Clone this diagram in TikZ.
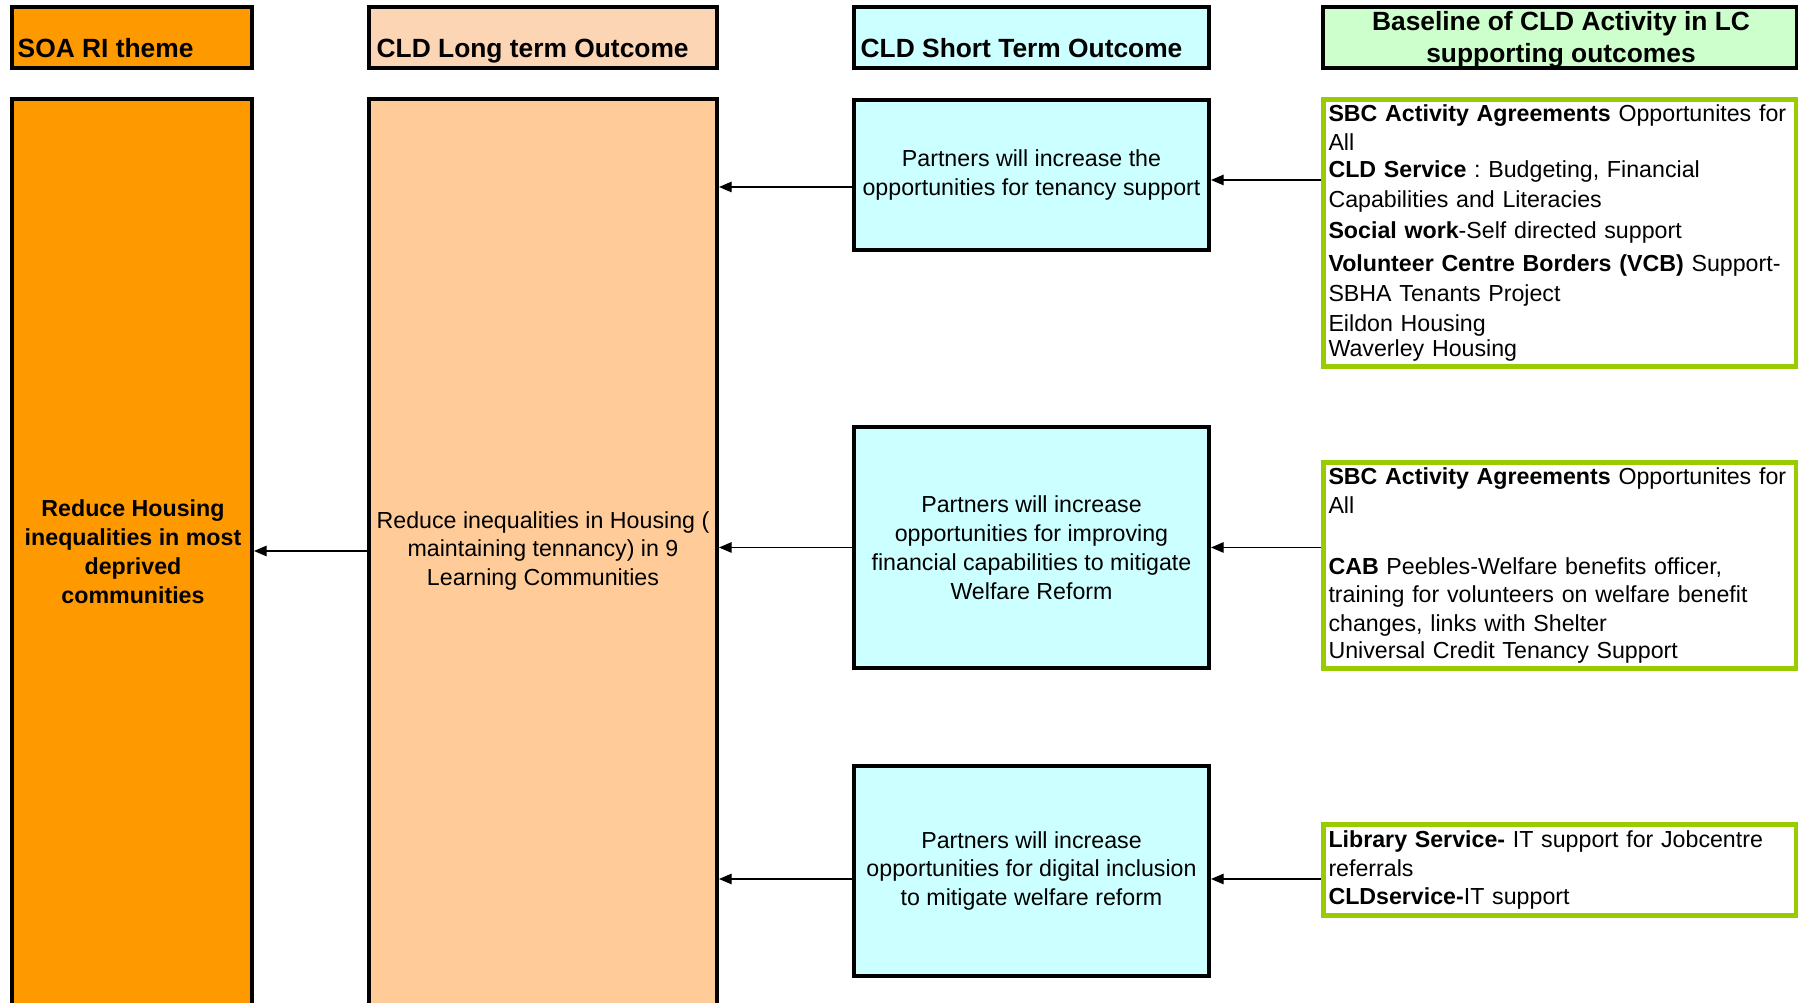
\documentclass[tikz,border=0pt]{standalone}
\usepackage{fontspec}
\setmainfont{Liberation Sans}
\usepackage{xcolor}
\usetikzlibrary{arrows.meta,calc}
\frenchspacing

\definecolor{soaorange}{HTML}{FF9900}
\definecolor{longpeach}{HTML}{FCD5B4}
\definecolor{longbody}{HTML}{FFCC99}
\definecolor{shortcyan}{HTML}{CCFFFF}
\definecolor{basegreen}{HTML}{CCFFCC}
\definecolor{actgreen}{HTML}{99CC00}

\begin{document}
\begin{tikzpicture}[
    box/.style={rectangle, draw, line width=1.15pt, inner sep=0pt},
    head/.style={font=\fontsize{7.5}{9.1}\selectfont\bfseries, inner sep=0pt},
    txt/.style={font=\fontsize{6.6}{8.2}\selectfont, align=center},
    txtb/.style={font=\fontsize{6.6}{8.2}\selectfont\bfseries, align=center},
    shortbox/.style={box, fill=shortcyan, minimum width=3.55cm, txt},
    actbox/.style={rectangle, draw=actgreen, line width=1.3pt, fill=white, text width=4.63cm, inner xsep=0.05cm, inner ysep=0pt, align=left, font=\fontsize{6.6}{8.2}\selectfont},
    arrow/.style={-{Triangle[length=3.6pt,width=3pt]}, line width=0.35pt}
]

\path[use as bounding box, clip] (0,0) rectangle (17.98,-10.03);

% Column headers
\node[box, fill=soaorange, minimum width=2.40cm, minimum height=0.61cm] (soahd) at (1.32,-0.375) {};
\node[head, anchor=base west] (soahdtxt) at (0.17,-0.58) {SOA RI theme};
\node[box, fill=longpeach, minimum width=3.48cm, minimum height=0.61cm] (longhd) at (5.43,-0.375) {};
\node[head, anchor=base west] (longhdtxt) at (3.76,-0.58) {CLD Long term Outcome};
\node[box, fill=shortcyan, minimum width=3.55cm, minimum height=0.61cm] (shorthd) at (10.315,-0.375) {};
\node[head, anchor=base west] (shorthdtxt) at (8.60,-0.58) {CLD Short Term Outcome};
\node[box, fill=basegreen, minimum width=4.74cm, minimum height=0.61cm] (basehd) at (15.60,-0.375) {};
\node[head, align=center] (basehdtxt) at (15.61,-0.40) {Baseline of CLD Activity in LC\\supporting outcomes};

% SOA theme and long term outcome
\node[box, fill=soaorange, minimum width=2.40cm, minimum height=10.01cm] (soa) at (1.32,-5.995) {};
\node[txtb] (soatxt) at (1.33,-5.515) {Reduce Housing\\inequalities in most\\deprived\\communities};
\node[box, fill=longbody, minimum width=3.48cm, minimum height=10.01cm] (long) at (5.43,-5.995) {};
\node[txt] (longtxt) at (5.43,-5.51) {Reduce inequalities in Housing (\\maintaining tennancy) in 9\\Learning Communities};

% Short term outcomes
\node[shortbox, minimum height=1.50cm] (s1) at (10.315,-1.75) {Partners will increase the\\opportunities for tenancy support};
\node[shortbox, minimum height=2.41cm] (s2) at (10.315,-5.475) {Partners will increase\\opportunities for improving\\financial capabilities to mitigate\\Welfare Reform};
\node[shortbox, minimum height=2.10cm] (s3) at (10.315,-8.71) {Partners will increase\\opportunities for digital inclusion\\to mitigate welfare reform};

% Baseline activity
\node[actbox, minimum height=2.67cm] (g1) at (15.60,-2.33) {\textbf{SBC Activity Agreements} Opportunites for\\All\\[-0.4pt]
\textbf{CLD Service} : Budgeting, Financial\\[0.3pt]
Capabilities and Literacies\\[0.6pt]
\textbf{Social work}-Self directed support\\[1.3pt]
\textbf{Volunteer Centre Borders (VCB)} Support-\\[0.3pt]
SBHA Tenants Project\\[0.3pt]
Eildon Housing\\[-1pt]
Waverley Housing};
\node[actbox, minimum height=2.06cm] (g2) at (15.60,-5.655) {\textbf{SBC Activity Agreements} Opportunites for\\All\\[9.1pt]
\textbf{CAB} Peebles-Welfare benefits officer,\\
training for volunteers on welfare benefit\\
changes, links with Shelter\\[-0.6pt]
Universal Credit Tenancy Support};
\node[actbox, minimum height=0.91cm] (g3) at (15.60,-8.70) {\textbf{Library Service-} IT support for Jobcentre\\
referrals\\[-0.4pt]
\textbf{CLDservice-}IT support};

% Connectors
\draw[arrow] ($(g1.west |- s1.east)+(0,-0.05)$) -- ($(s1.east)+(0,-0.05)$);
\draw[arrow] ($(s1.west)+(0,-0.12)$) -- ($(s1.west -| long.east)+(0,-0.12)$);
\draw[arrow] (g2.west |- s2.east) -- (s2.east);
\draw[arrow] (s2.west) -- (s2.west -| long.east);
\draw[arrow] (longtxt.west -| long.west) -- (longtxt.west -| soa.east);
\draw[arrow] ($(g3.west |- s3.east)+(0,-0.08)$) -- ($(s3.east)+(0,-0.08)$);
\draw[arrow] ($(s3.west)+(0,-0.08)$) -- ($(s3.west -| long.east)+(0,-0.08)$);

\end{tikzpicture}
\end{document}
